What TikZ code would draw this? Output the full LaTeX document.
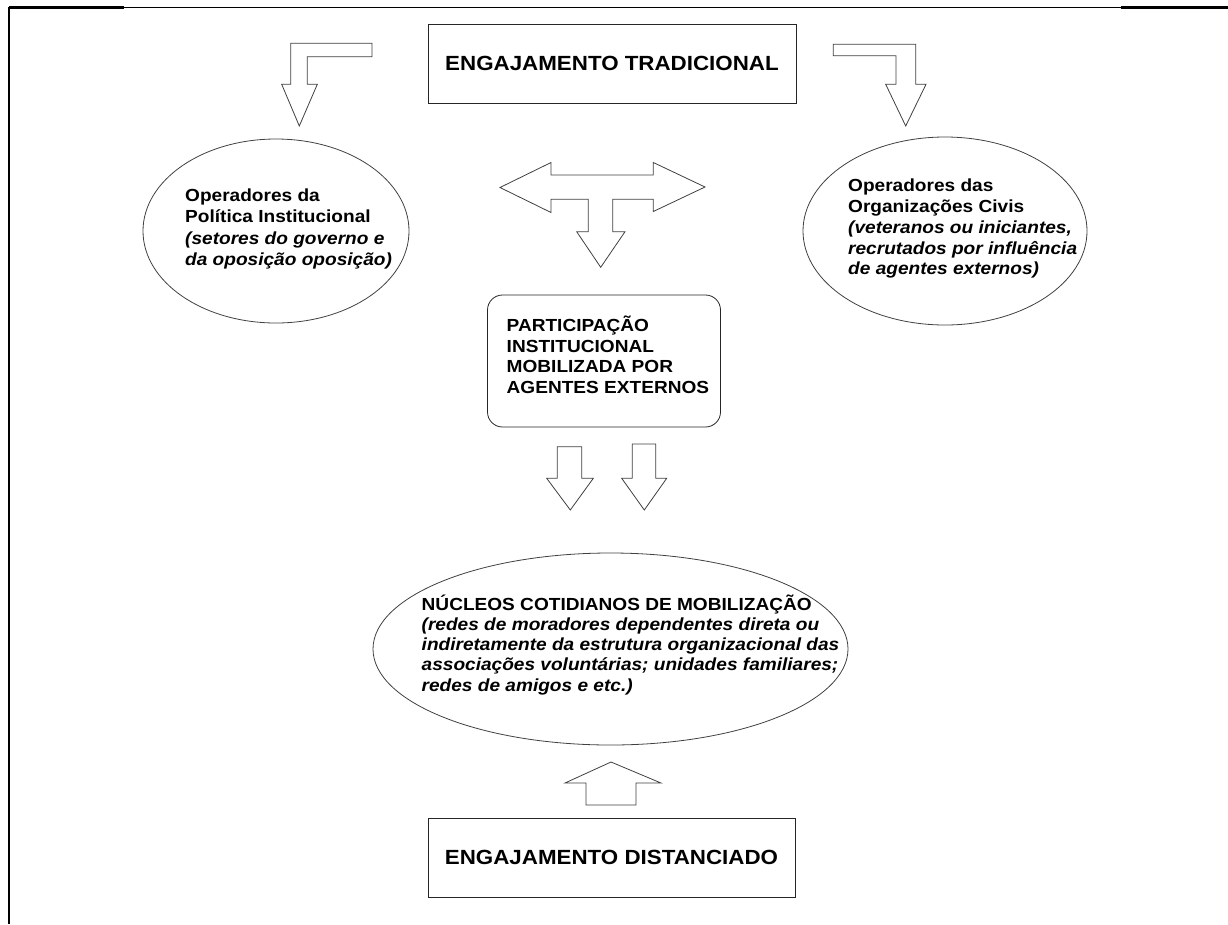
\documentclass[tikz,border=0pt]{standalone}
\usepackage{fontspec}
\setmainfont{Liberation Sans}
\newfontfamily\diagfont{Liberation Sans}[FakeStretch=1.09]
\usepackage{tikz}
\usetikzlibrary{shapes.geometric, positioning}

\begin{document}
\begin{tikzpicture}[x=1pt,y=-1pt,
	seta/.style={draw=black!75, line width=0.8pt, fill=white, line join=miter},
	caixa/.style={draw=black!85, line width=0.8pt, minimum width=368pt, minimum height=79pt, inner sep=0pt, font=\diagfont\bfseries\fontsize{20.5}{24}\selectfont},
	oval/.style={draw=black!75, line width=0.8pt, ellipse, inner sep=0pt},
	texto/.style={align=left, inner sep=0pt, anchor=north west, font=\diagfont\bfseries\fontsize{17.5}{21.5}\selectfont}]
		\useasboundingbox (0,0) rectangle (1228,924);

		\draw[line width=1.2pt] (9,7.5) -- (1228,7.5);
		\draw[line width=2.2pt] (9,7.5) -- (124,7.5);
		\draw[line width=3pt] (1121,7.5) -- (1228,7.5);
		\draw[line width=2.5pt] (9,6.5) -- (9,924);

		\node[caixa] (tradicional) at (612,63.5) {ENGAJAMENTO TRADICIONAL};
		\node[caixa, minimum width=367pt] (distanciado) at (611.5,857.5) {ENGAJAMENTO DISTANCIADO};

		\node[oval, minimum width=266pt, minimum height=184pt] (politica) at (276,231) {};
		\node[oval, minimum width=284pt, minimum height=188pt] (civis) at (945,231) {};
		\node[oval, minimum width=475pt, minimum height=192pt] (nucleos) at (610.5,649) {};
		\node[draw=black!85, line width=0.8pt, rounded corners=15pt, minimum width=233pt, minimum height=132pt] (participacao) at (604,361) {};

		\node[texto] (politica-txt) at (185,188.5) {Operadores da\\Política Institucional\\\textit{(setores do governo e}\\\textit{da oposição oposição)}};
		\node[texto, font=\diagfont\bfseries\fontsize{17.5}{20.75}\selectfont] (civis-txt) at (848,179) {Operadores das\\Organizações Civis\\\textit{(veteranos ou iniciantes,}\\\textit{recrutados por influência}\\\textit{de agentes externos)}};
		\node[texto, font=\diagfont\bfseries\fontsize{17.5}{20.5}\selectfont] (participacao-txt) at (506.5,316) {PARTICIPAÇÃO\\INSTITUCIONAL\\MOBILIZADA POR\\AGENTES EXTERNOS};
		\node[texto, font=\diagfont\bfseries\fontsize{17.5}{20.2}\selectfont] (nucleos-txt) at (421.5,594.5) {NÚCLEOS COTIDIANOS DE MOBILIZAÇÃO\\\textit{(redes de moradores dependentes direta ou}\\\textit{indiretamente da estrutura organizacional das}\\\textit{associações voluntárias; unidades familiares;}\\\textit{redes de amigos e etc.)}};

		\draw[seta] (372,43.3) -- (290.7,43.3) -- (290.7,84.3) -- (281.7,84.3) -- (299.3,126) -- (317.3,84.3) -- (307.3,84.3) -- (307.3,56.7) -- (372,56.7) -- cycle;
		\draw[seta] (833.3,44.3) -- (915.7,44.3) -- (915.7,84.3) -- (926,84.3) -- (905.7,126) -- (885.7,84.3) -- (896,84.3) -- (896,55.7) -- (833.3,55.7) -- cycle;
		\draw[seta] (500,187.5) -- (551,162.5) -- (551,175) -- (653.3,175) -- (653.3,162.5) -- (705,187) -- (653.3,211.5) -- (653.3,199.3) -- (612.7,199.3) -- (612.7,231.7) -- (625,231.7) -- (600.7,267.3) -- (576.7,231.7) -- (588.3,231.7) -- (588.3,199.3) -- (551,199.3) -- (551,212.5) -- cycle;
		\draw[seta] (557.3,446.7) -- (581.7,446.7) -- (581.7,478.3) -- (593.3,478.3) -- (570.3,510) -- (546.7,478.3) -- (557.3,478.3) -- cycle;
		\draw[seta] (632.3,444) -- (655.7,444) -- (655.7,478.3) -- (666.7,478.3) -- (644.3,510) -- (621.7,478.3) -- (632.3,478.3) -- cycle;
		\draw[seta] (611,762) -- (661,783) -- (636,783) -- (636,805) -- (586,805) -- (586,783) -- (565,783) -- cycle;
\end{tikzpicture}
\end{document}
